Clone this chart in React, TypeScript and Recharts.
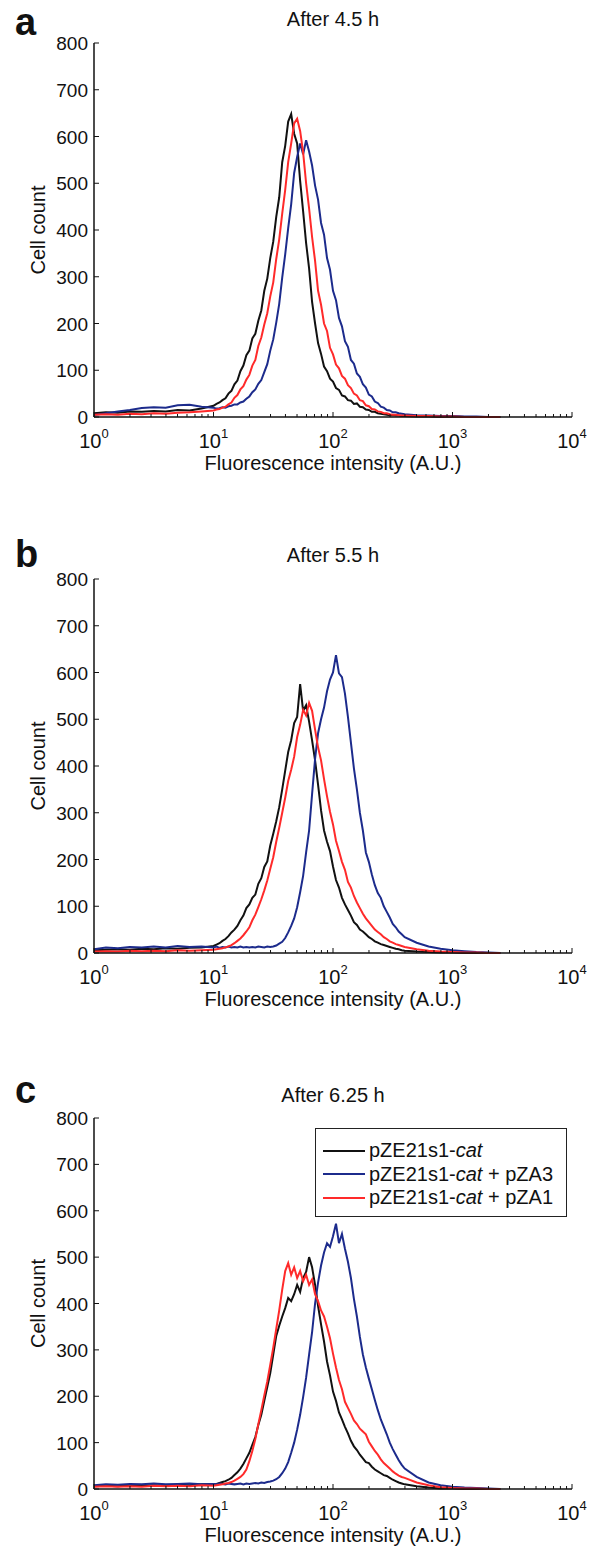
import { LineChart, Line, XAxis, YAxis, Legend, Label } from "recharts";

const FONT = '"Liberation Sans", Arial, Helvetica, sans-serif';
const INK = "#111";

// log10(fluorescence intensity) of each histogram sample
const LOG_X = [
  0, 0.1, 0.2, 0.3, 0.4, 0.5, 0.6, 0.7, 0.8, 0.9,
  1, 1.025, 1.05, 1.075,
  1.1, 1.125, 1.15, 1.175,
  1.2, 1.225, 1.25, 1.275,
  1.3, 1.325, 1.35, 1.375,
  1.4, 1.425, 1.45, 1.475,
  1.5, 1.525, 1.55, 1.575,
  1.6, 1.625, 1.65, 1.675,
  1.7, 1.725, 1.75, 1.775,
  1.8, 1.825, 1.85, 1.875,
  1.9, 1.925, 1.95, 1.975,
  2, 2.025, 2.05, 2.075,
  2.1, 2.125, 2.15, 2.175,
  2.2, 2.225, 2.25, 2.275,
  2.3, 2.325, 2.35, 2.375,
  2.4, 2.425, 2.45, 2.475,
  2.5, 2.525, 2.55, 2.575,
  2.6, 2.7, 2.8, 2.9, 3, 3.1, 3.2, 3.3, 3.4,
];

// panel a: after 4.5 h
const A_BLACK = [
  8, 10, 9, 12, 11, 13, 12, 15, 14, 18,
  24, 28, 31, 36,
  40, 50, 56, 70,
  78, 98, 110, 132,
  142, 168, 178, 206,
  228, 270, 296, 340,
  375, 428, 470, 545,
  580, 632, 648, 606,
  585, 505, 440, 372,
  318, 246, 200, 158,
  135, 108, 98, 82,
  76, 62, 58, 46,
  44, 36, 35, 28,
  29, 22, 21, 16,
  15, 11, 11, 8,
  7, 6, 5, 4,
  4, 3, 3, 2,
  2, 1, 1, 0, 1, 0, 0, 0, 0,
];
const A_BLUE = [
  4, 8, 12, 15, 19, 21, 20, 25, 26, 22,
  20, 18, 19, 21,
  20, 23, 24, 27,
  27, 31, 33, 39,
  44, 53, 59, 71,
  79, 96, 113, 142,
  166, 202, 242, 298,
  348, 404, 455, 522,
  556, 585, 562, 592,
  568, 538, 495, 465,
  415, 390, 340, 315,
  270, 250, 212, 194,
  162, 150, 122, 114,
  93, 86, 70, 63,
  48, 44, 33, 30,
  22, 20, 15, 14,
  10, 10, 8, 7,
  6, 4, 3, 2, 2, 1, 1, 0, 0,
];
const A_RED = [
  5, 6, 5, 7, 6, 8, 7, 9, 10, 12,
  14, 16, 17, 20,
  22, 27, 31, 41,
  47, 59, 66, 80,
  90, 110, 122, 152,
  170, 198, 222, 258,
  288, 338, 380, 435,
  486, 545, 585, 628,
  638, 612, 566, 500,
  446, 385, 334, 270,
  240, 200, 184, 148,
  134, 112, 104, 88,
  82, 68, 62, 50,
  46, 36, 34, 25,
  23, 17, 16, 12,
  11, 8, 8, 6,
  5, 5, 4, 3,
  3, 2, 2, 1, 1, 0, 0, 0, 0,
];

// panel b: after 5.5 h
const B_BLACK = [
  6, 7, 8, 7, 9, 8, 10, 9, 11, 12,
  15, 18, 21, 26,
  30, 36, 44, 50,
  58, 70, 80, 96,
  104, 118, 125, 148,
  160, 184, 196, 230,
  255, 282, 312, 350,
  390, 430, 455, 492,
  505, 575, 518, 530,
  495, 455, 412, 360,
  305, 262, 238, 218,
  185, 156, 140, 118,
  104, 92, 80, 66,
  60, 50, 46, 40,
  34, 30, 25, 22,
  19, 17, 15, 13,
  11, 9, 8, 6,
  5, 3, 2, 1, 1, 0, 0, 0, 0,
];
const B_BLUE = [
  8, 12, 10, 13, 12, 14, 12, 15, 13, 14,
  12, 14, 11, 13,
  12, 14, 12, 13,
  12, 14, 12, 13,
  12, 13, 12, 14,
  13, 12, 14, 13,
  14, 16, 20, 24,
  32, 44, 58, 74,
  98, 130, 165, 215,
  262, 340, 415, 470,
  500, 525, 560, 585,
  600, 637, 598, 590,
  555, 505, 450, 395,
  350, 300, 262, 215,
  195, 168, 145, 128,
  118, 100, 88, 76,
  62, 55, 46, 40,
  34, 22, 14, 9, 6, 4, 2, 1, 0,
];
const B_RED = [
  3, 4, 3, 5, 4, 5, 4, 6, 5, 6,
  7, 8, 9, 10,
  12, 14, 17, 21,
  26, 31, 38, 46,
  55, 70, 82, 98,
  115, 134, 155, 180,
  205, 238, 268, 300,
  332, 368, 392, 420,
  462, 488, 520, 508,
  535, 518, 478, 440,
  412, 372, 335, 302,
  275, 240, 218, 195,
  178, 152, 140, 122,
  108, 96, 84, 74,
  66, 58, 50, 45,
  40, 34, 30, 25,
  22, 19, 17, 15,
  13, 8, 5, 3, 2, 1, 1, 0, 0,
];

// panel c: after 6.25 h
const C_BLACK = [
  6, 7, 6, 8, 7, 8, 7, 9, 8, 10,
  10, 11, 13, 15,
  17, 20, 24, 30,
  36, 44, 54, 66,
  78, 95, 112, 138,
  160, 190, 220, 250,
  290, 330, 352, 372,
  390, 412, 405, 420,
  440, 425, 455, 468,
  500, 478, 440, 395,
  355, 318, 275, 245,
  210, 190, 165, 150,
  134, 120, 104, 92,
  84, 74, 66, 58,
  56, 48, 42, 38,
  34, 30, 28, 24,
  20, 17, 14, 12,
  10, 6, 3, 1, 1, 0, 0, 0, 0,
];
const C_BLUE = [
  8, 10, 9, 11, 10, 12, 10, 11, 12, 10,
  11, 10, 12, 11,
  10, 12, 11, 10,
  11, 12, 10, 12,
  11, 12, 13, 12,
  14, 13, 15, 16,
  18, 21, 26, 34,
  44, 58, 78, 100,
  128, 160, 198, 240,
  290, 338, 400, 445,
  482, 510, 530, 522,
  545, 572, 530, 550,
  518, 490, 455, 410,
  372, 328, 290, 262,
  238, 215, 192, 170,
  150, 134, 118, 100,
  86, 74, 62, 52,
  44, 26, 14, 8, 5, 3, 2, 1, 0,
];
const C_RED = [
  5, 6, 5, 6, 5, 7, 6, 7, 6, 8,
  7, 8, 9, 10,
  12, 13, 15, 18,
  22, 26, 32, 42,
  60, 82, 108, 140,
  170, 202, 232, 268,
  305, 345, 385, 430,
  470, 487, 462, 478,
  455, 470, 448, 462,
  440, 452, 420, 405,
  385, 372, 350, 325,
  292, 262, 235, 215,
  188, 175, 162, 148,
  140, 130, 124, 118,
  102, 92, 82, 74,
  64, 56, 50, 44,
  38, 33, 29, 26,
  24, 14, 8, 4, 2, 1, 1, 0, 0,
];

const SERIES_NAMES = ["pZE21s1-cat", "pZE21s1-cat + pZA3", "pZE21s1-cat + pZA1"];
const SERIES_COLORS = ["#111111", "#1c2b8c", "#ff2a2a"];
const PANEL_LETTERS = ["a", "b", "c"];
const PANEL_TITLES = ["After 4.5 h", "After 5.5 h", "After 6.25 h"];
const PANEL_SERIES = [
  [A_BLACK, A_BLUE, A_RED],
  [B_BLACK, B_BLUE, B_RED],
  [C_BLACK, C_BLUE, C_RED],
];

const Y_TICKS = [0, 100, 200, 300, 400, 500, 600, 700, 800];
const X_MAJOR = [1, 10, 100, 1000, 10000];
const X_MAJOR_LABELS = ["0", "1", "2", "3", "4"];
const X_MINOR_STEPS = [2, 3, 4, 5, 6, 7, 8, 9];
const X_TICKS = [
  ...X_MAJOR,
  ...X_MAJOR.slice(0, 4).flatMap((d) => X_MINOR_STEPS.map((k) => k * d)),
].sort((a, b) => a - b);

// layout
const WIDTH = 589;
const PLOT_TOP = [43, 579, 1118];
const PLOT_H = [374, 374, 371];
const TITLE_BASE = [26, 562, 1102];
const LETTER_BASE = [35, 567, 1103];
const M_TOP = 20;
const X_AXIS_H = 60;
const M_BOTTOM = 4;

function renderXTick(props: any) {
  const { x, y, payload } = props;
  const i = X_MAJOR.indexOf(payload.value);
  const major = i >= 0;
  return (
    <g>
      <line x1={x} x2={x} y1={y} y2={y - (major ? 5 : 3)} stroke={INK} strokeWidth={1} />
      {major && (
        <text x={x} y={y + 31} textAnchor="middle" fontSize={20} fill={INK} fontFamily={FONT}>
          10
          <tspan fontSize={13} dy={-10}>
            {X_MAJOR_LABELS[i]}
          </tspan>
        </text>
      )}
    </g>
  );
}

function renderYTick(props: any) {
  const { x, y, payload } = props;
  return (
    <g>
      <line x1={x} x2={x + 5} y1={y} y2={y} stroke={INK} strokeWidth={1} />
      <text x={x - 6} y={y + 7} textAnchor="end" fontSize={19} fill={INK} fontFamily={FONT}>
        {payload.value}
      </text>
    </g>
  );
}

function XLabel(props: any) {
  const vb = props.viewBox;
  return (
    <text x={vb.x + vb.width / 2} y={vb.y + 53} textAnchor="middle" fontSize={20} fill={INK} fontFamily={FONT}>
      Fluorescence intensity (A.U.)
    </text>
  );
}

function YLabel(props: any) {
  const vb = props.viewBox;
  const cx = vb.x + 1;
  const cy = vb.y + vb.height / 2;
  return (
    <text
      x={cx}
      y={cy}
      transform={`rotate(-90 ${cx} ${cy})`}
      textAnchor="middle"
      fontSize={20}
      fill={INK}
      fontFamily={FONT}
    >
      Cell count
    </text>
  );
}

function SeriesName({ text }: { text: string }) {
  const [head, tail] = text.split("cat");
  return (
    <>
      {head}
      <i>cat</i>
      {tail}
    </>
  );
}

function LegendBox(props: any) {
  // keep the plotting order, not recharts' alphabetical one
  const items = [...(props.payload || [])].sort(
    (a: any, b: any) => SERIES_NAMES.indexOf(a.value) - SERIES_NAMES.indexOf(b.value)
  );
  return (
    <div
      style={{
        border: "1px solid #222",
        background: "#fff",
        width: 252,
        height: 89,
        boxSizing: "border-box",
        paddingTop: 10,
        fontFamily: FONT,
        color: INK,
      }}
    >
      {items.map((item: any) => (
        <div key={item.value} style={{ display: "flex", alignItems: "center", height: 23.5 }}>
          <span style={{ display: "inline-block", width: 42, marginLeft: 7, borderTop: `2px solid ${item.color}` }} />
          <span style={{ marginLeft: 4, fontSize: 20, lineHeight: "23.5px", whiteSpace: "nowrap" }}>
            <SeriesName text={item.value} />
          </span>
        </div>
      ))}
    </div>
  );
}

function Panel({ idx }: { idx: number }) {
  const [black, blue, red] = PANEL_SERIES[idx];
  const rows = LOG_X.map((e, i) => ({ x: 10 ** e, black: black[i], blue: blue[i], red: red[i] }));
  const height = M_TOP + PLOT_H[idx] + X_AXIS_H + M_BOTTOM;
  const keys = ["black", "blue", "red"];
  return (
    <div style={{ position: "absolute", left: 0, top: PLOT_TOP[idx] - M_TOP }}>
      <LineChart width={WIDTH} height={height} data={rows} margin={{ top: M_TOP, right: 17, bottom: M_BOTTOM, left: 44 }}>
        <XAxis
          dataKey="x"
          type="number"
          scale="log"
          domain={[1, 10000]}
          allowDataOverflow
          ticks={X_TICKS}
          interval={0}
          tick={renderXTick}
          tickSize={0}
          tickMargin={0}
          tickLine={false}
          axisLine={{ stroke: INK, strokeWidth: 1.5 }}
          height={X_AXIS_H}
        >
          <Label content={XLabel} />
        </XAxis>
        <YAxis
          type="number"
          domain={[0, 800]}
          ticks={Y_TICKS}
          interval={0}
          tick={renderYTick}
          tickSize={0}
          tickMargin={0}
          tickLine={false}
          axisLine={{ stroke: INK, strokeWidth: 1.5 }}
          width={50}
        >
          <Label content={YLabel} />
        </YAxis>
        {keys.map((k, i) => (
          <Line
            key={k}
            dataKey={k}
            name={SERIES_NAMES[i]}
            type="linear"
            stroke={SERIES_COLORS[i]}
            strokeWidth={2}
            strokeLinejoin="miter"
            dot={false}
            activeDot={false}
            isAnimationActive={false}
          />
        ))}
        {idx === 2 && (
          <Legend
            layout="vertical"
            align="center"
            verticalAlign="middle"
            content={LegendBox}
            wrapperStyle={{ left: 315, top: 1128 - (PLOT_TOP[idx] - M_TOP), width: 252, height: 89 }}
          />
        )}
      </LineChart>
    </div>
  );
}

export default function App() {
  return (
    <div style={{ position: "absolute", left: 0, top: 0, width: WIDTH, height: 1547, background: "#fff", fontFamily: FONT }}>
      {[0, 1, 2].map((i) => (
        <Panel key={i} idx={i} />
      ))}
      <svg width={WIDTH} height={1547} style={{ position: "absolute", left: 0, top: 0, pointerEvents: "none" }}>
        {[0, 1, 2].map((i) => (
          <g key={i} fontFamily={FONT} fill={INK}>
            <text x={15} y={LETTER_BASE[i]} fontSize={38} fontWeight="bold">
              {PANEL_LETTERS[i]}
            </text>
            <text x={333} y={TITLE_BASE[i]} fontSize={20} textAnchor="middle">
              {PANEL_TITLES[i]}
            </text>
          </g>
        ))}
      </svg>
    </div>
  );
}
